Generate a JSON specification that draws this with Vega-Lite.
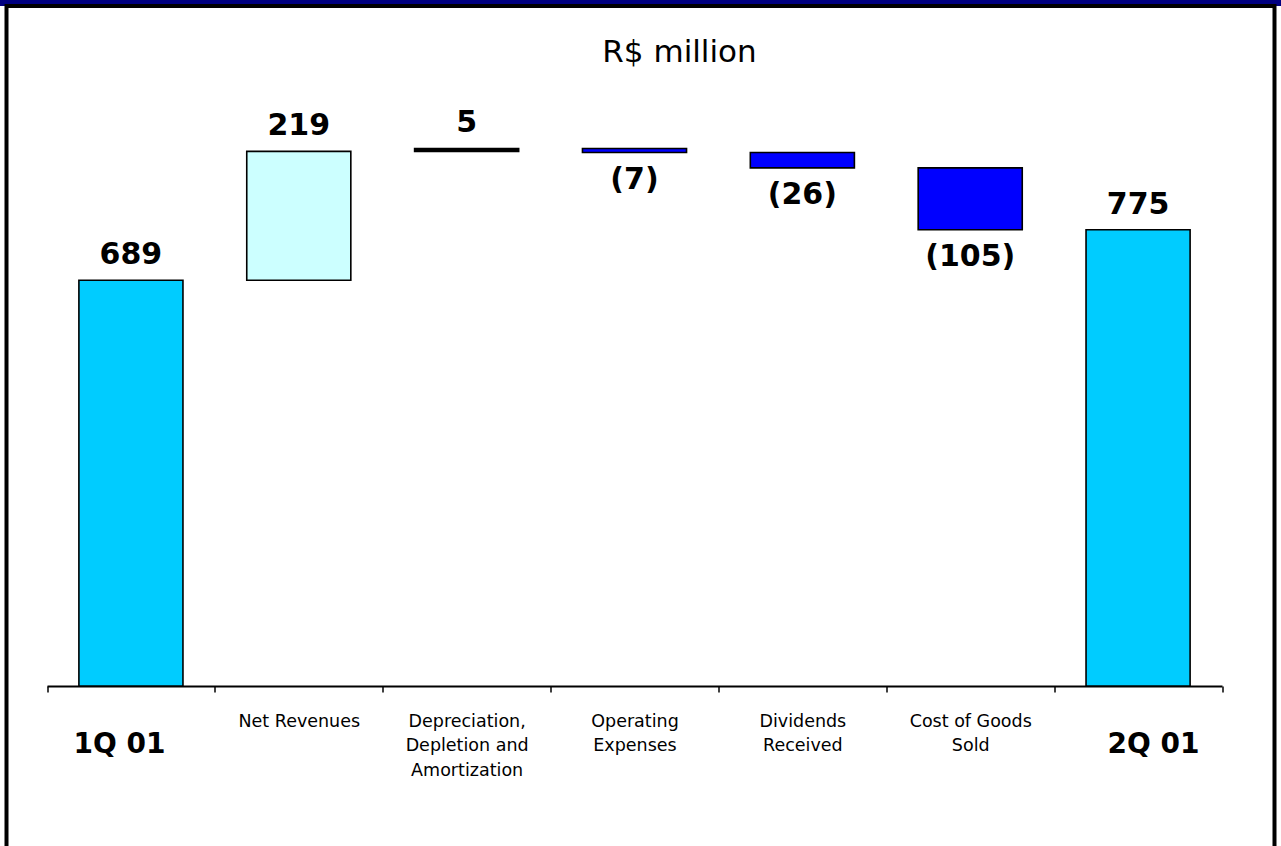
{
  "$schema": "https://vega.github.io/schema/vega-lite/v6.json",
  "padding": {"left": 0, "top": 0, "right": 0, "bottom": -4},
  "background": "white",
  "spacing": 0,
  "bounds": "flush",
  "center": true,
  "config": {
    "font": "DejaVu Sans"
  },
  "vconcat": [
    {
      "width": 1281,
      "height": 6,
      "data": {"values": [{}]},
      "mark": {"type": "point", "opacity": 0},
      "view": {"fill": "#000080", "stroke": null}
    },
    {
      "width": 1268,
      "height": 842,
      "view": {"stroke": "black", "strokeWidth": 4, "fill": "white"},
      "title": {
        "text": "R$ million",
        "font": "DejaVu Sans",
        "fontSize": 31,
        "fontWeight": "normal",
        "color": "black",
        "anchor": "middle",
        "frame": "group",
        "baseline": "alphabetic",
        "offset": -87,
        "dx": 39
      },
      "data": {
        "values": [
          {"cat": "1Q 01", "low": 0, "high": 689, "amount": 689, "kind": "total"},
          {"cat": "Net Revenues", "low": 689, "high": 908, "amount": 219, "kind": "increase"},
          {"cat": "Depreciation, Depletion and Amortization", "low": 908, "high": 913, "amount": 5, "kind": "increase"},
          {"cat": "Operating Expenses", "low": 906, "high": 913, "amount": -7, "kind": "decrease"},
          {"cat": "Dividends Received", "low": 880, "high": 906, "amount": -26, "kind": "decrease"},
          {"cat": "Cost of Goods Sold", "low": 775, "high": 880, "amount": -105, "kind": "decrease"},
          {"cat": "2Q 01", "low": 0, "high": 775, "amount": 775, "kind": "total"}
        ]
      },
      "encoding": {
        "x": {
          "field": "cat",
          "type": "nominal",
          "sort": null,
          "scale": {"range": [40.5, 1215.5], "paddingInner": 0, "paddingOuter": 0},
          "axis": {
            "title": null,
            "offset": -162,
            "labelAngle": 0,
            "domainColor": "black",
            "domainWidth": 2,
            "tickColor": "black",
            "tickWidth": 1.5,
            "tickSize": 6,
            "tickBand": "extent",
            "labelColor": "black",
            "labelFont": "DejaVu Sans",
            "labelLineHeight": 24.5,
            "labelBaseline": "top",
            "labelOverlap": false,
            "labelBound": false,
            "labelLimit": 0,
            "labelFontSize": {"condition": {"test": "datum.value == '1Q 01' || datum.value == '2Q 01'", "value": 28}, "value": 17.5},
            "labelFontWeight": {"condition": {"test": "datum.value == '1Q 01' || datum.value == '2Q 01'", "value": "bold"}, "value": "normal"},
            "labelPadding": {"condition": {"test": "datum.value == '1Q 01' || datum.value == '2Q 01'", "value": 38}, "value": 20},
            "labelOffset": {"condition": [{"test": "datum.value == '1Q 01'", "value": -12}, {"test": "datum.value == '2Q 01'", "value": 15}], "value": 0},
            "labelExpr": "datum.value == 'Depreciation, Depletion and Amortization' ? ['Depreciation,', 'Depletion and', 'Amortization'] : datum.value == 'Operating Expenses' ? ['Operating', 'Expenses'] : datum.value == 'Dividends Received' ? ['Dividends', 'Received'] : datum.value == 'Cost of Goods Sold' ? ['Cost of Goods', 'Sold'] : datum.value"
          }
        }
      },
      "layer": [
        {
          "mark": {"type": "bar", "stroke": "black", "strokeWidth": 1.6, "width": {"band": 0.62}},
          "encoding": {
            "y": {"field": "low", "type": "quantitative", "scale": {"domain": [0, 1000], "range": [680, 91.2], "nice": false, "zero": false}, "axis": null},
            "y2": {"field": "high"},
            "fill": {
              "condition": {"test": "datum.high - datum.low < 6 && datum.kind == 'increase'", "value": "black"},
              "field": "kind",
              "type": "nominal",
              "scale": {"domain": ["total", "increase", "decrease"], "range": ["#00CCFF", "#CCFFFF", "#0000FF"]},
              "legend": null
            }
          }
        },
        {
          "transform": [{"filter": "datum.kind != 'decrease'"}],
          "mark": {"type": "text", "baseline": "alphabetic", "dy": -16, "font": "DejaVu Sans", "fontSize": 30, "fontWeight": "bold", "color": "black"},
          "encoding": {
            "y": {"field": "high", "type": "quantitative"},
            "text": {"field": "amount", "type": "quantitative", "format": "(d"}
          }
        },
        {
          "transform": [{"filter": "datum.kind == 'decrease'"}],
          "mark": {"type": "text", "baseline": "top", "dy": 12, "font": "DejaVu Sans", "fontSize": 30, "fontWeight": "bold", "color": "black"},
          "encoding": {
            "y": {"field": "low", "type": "quantitative"},
            "text": {"field": "amount", "type": "quantitative", "format": "(d"}
          }
        }
      ]
    }
  ]
}
